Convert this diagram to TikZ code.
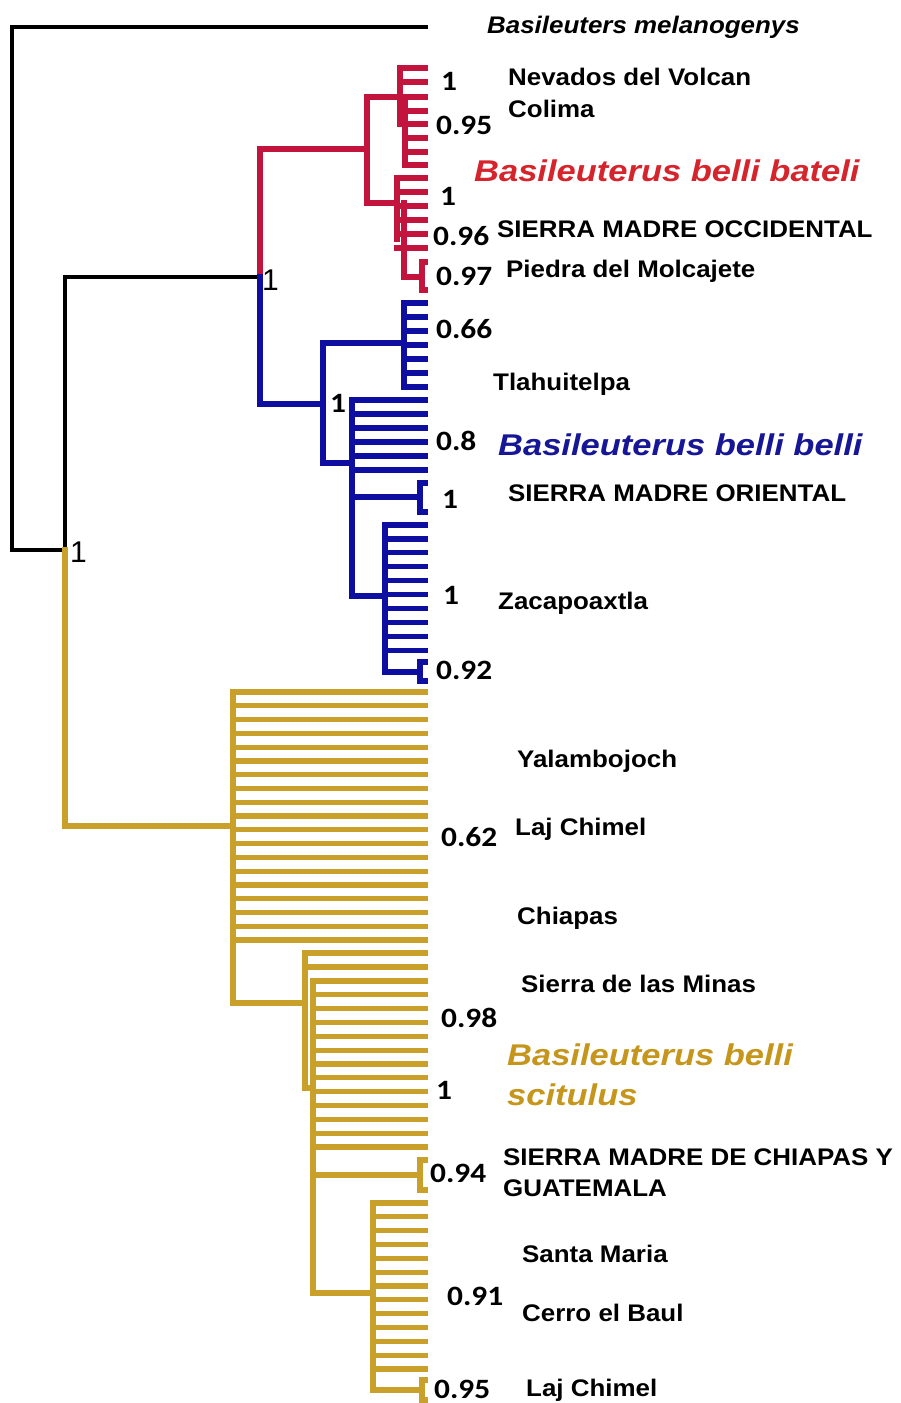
\documentclass[tikz,border=0pt]{standalone}
\usepackage{fontspec}
\setmainfont{Liberation Sans}
\newfontfamily\namefont{Liberation Sans}[FakeStretch=1.08]
\newfontfamily\cladefont{Liberation Sans}[FakeStretch=1.15]
\newfontfamily\numfont{Carlito}[FakeStretch=1.12]
\definecolor{cR}{RGB}{195,20,62}
\definecolor{cB}{RGB}{14,14,160}
\definecolor{cY}{RGB}{201,160,42}
\definecolor{lR}{RGB}{214,36,44}
\definecolor{lB}{RGB}{22,22,150}
\definecolor{lY}{RGB}{198,150,28}
\newcommand\leafend{425}
% leaf: style, x of parent vertical, y
\newcommand\tleaf[3]{\coordinate (lp) at (#2,#3); \coordinate (lq) at (\leafend,#3); \draw[#1] (lp) -- (lq);}
% bracket: style, x, ytop, ybottom
\newcommand\tbrack[4]{\coordinate (bt) at (#2,#3); \coordinate (bb) at (#2,#4);
  \coordinate (bt2) at (\leafend,#3); \coordinate (bb2) at (\leafend,#4);
  \draw[#1] (bt2) -- (bt) -- (bb) -- (bb2);}
\begin{document}
\begin{tikzpicture}[x=1pt,y=-1pt,
  tree/.style={line width=5.2pt, line cap=rect, line join=miter},
  treeK/.style={tree, line width=4.5pt, draw=black},
  treeR/.style={tree, draw=cR},
  treeB/.style={tree, draw=cB},
  treeY/.style={tree, draw=cY},
  nm/.style={anchor=base west, inner sep=0pt, yshift=-8.5pt, font=\namefont\bfseries\fontsize{24}{28}\selectfont},
  num/.style={anchor=base west, inner sep=0pt, yshift=-8.5pt, font=\numfont\bfseries\fontsize{28}{32}\selectfont},
  clade/.style={anchor=base west, inner sep=0pt, yshift=-11pt, font=\cladefont\bfseries\itshape\fontsize{30}{36}\selectfont},
  outg/.style={anchor=base west, inner sep=0pt, yshift=-8.5pt, font=\namefont\bfseries\itshape\fontsize{24}{28}\selectfont},
  big/.style={anchor=base west, inner sep=0pt, yshift=-11pt, font=\fontsize{30}{36}\selectfont}
]
\useasboundingbox (0,0) rectangle (900,1403);
\fill[white] (0,0) rectangle (900,1403);

% ---------- backbone (black) ----------
\coordinate (outleaf) at (426,27);
\coordinate (root) at (12,550);
\coordinate (nA) at (65,550);
\coordinate (nB) at (260,277);
\coordinate (nY) at (233,826);
\draw[treeK] (outleaf) -| (root) -- (nA);
\draw[treeK] (nA) |- (nB);
\draw[treeY] (nA) |- (nY);

% ---------- red clade ----------
\coordinate (rA) at (367,149);
\coordinate (rAt) at (367,97);
\coordinate (rAb) at (367,203);
\draw[treeR] (nB) |- (rA);
\draw[treeR] (rAt) -- (rAb);
\coordinate (r1) at (405,97);
\draw[treeR] (rAt) -- (r1);
\coordinate (r1a) at (400,68); \coordinate (r1b) at (400,124);
\draw[treeR] (r1a) -- (r1b);
\coordinate (r1c) at (405,97); \coordinate (r1d) at (405,165);
\draw[treeR] (r1c) -- (r1d);
\foreach \yy in {68,82,97,111,124} {\tleaf{treeR}{400}{\yy}}
\foreach \yy in {138,152,165} {\tleaf{treeR}{405}{\yy}}
\coordinate (r2) at (397,203);
\draw[treeR] (rAb) -- (r2);
\coordinate (r2a) at (397,178); \coordinate (r2b) at (397,239);
\draw[treeR] (r2a) -- (r2b);
\coordinate (r3a) at (404,203); \coordinate (r3b) at (404,277);
\draw[treeR] (r3a) -- (r3b);
\foreach \yy in {178,192,206,220,234,248} {\tleaf{treeR}{397}{\yy}}
\coordinate (r4) at (422,277);
\draw[treeR] (r3b) -- (r4);
\tbrack{treeR}{422}{262}{290}

% ---------- blue clade ----------
\coordinate (bA) at (323,404);
\draw[treeB] (nB) |- (bA);
\coordinate (bAt) at (323,343); \coordinate (bAb) at (323,463);
\draw[treeB] (bAt) -- (bAb);
\coordinate (b1) at (404,343);
\draw[treeB] (bAt) -- (b1);
\coordinate (b1t) at (404,303); \coordinate (b1b) at (404,387);
\draw[treeB] (b1t) -- (b1b);
\foreach \yy in {303,317,331,345,359,373,387} {\tleaf{treeB}{404}{\yy}}
\coordinate (b2) at (352,463);
\draw[treeB] (bAb) -- (b2);
\coordinate (b2t) at (352,400); \coordinate (b2b) at (352,596);
\draw[treeB] (b2t) -- (b2b);
\foreach \yy in {400,414,428,442,456,470} {\tleaf{treeB}{352}{\yy}}
\coordinate (b2m) at (352,497); \coordinate (b2k) at (420,497);
\draw[treeB] (b2m) -- (b2k);
\tbrack{treeB}{420}{483}{512}
\coordinate (b3) at (385,596);
\draw[treeB] (b2b) -- (b3);
\coordinate (b3t) at (385,525); \coordinate (b3b) at (385,672);
\draw[treeB] (b3t) -- (b3b);
\foreach \i in {0,...,9} {\tleaf{treeB}{385}{525+\i*13.9}}
\coordinate (b3k) at (420,672);
\draw[treeB] (b3b) -- (b3k);
\tbrack{treeB}{420}{662}{681}

% ---------- yellow clade ----------
\coordinate (yAt) at (233,692); \coordinate (yAb) at (233,1003);
\draw[treeY] (yAt) -- (yAb);
\foreach \i in {0,...,18} {\tleaf{treeY}{233}{692+\i*13.78}}
\coordinate (y1) at (305,1003);
\draw[treeY] (yAb) -- (y1);
\coordinate (y1t) at (305,953); \coordinate (y1b) at (305,1088);
\draw[treeY] (y1t) -- (y1b);
\foreach \yy in {953,967} {\tleaf{treeY}{305}{\yy}}
\coordinate (y2) at (313,1088);
\draw[treeY] (y1b) -- (y2);
\coordinate (y2t) at (313,981); \coordinate (y2b) at (313,1293);
\draw[treeY] (y2t) -- (y2b);
\foreach \i in {0,...,12} {\tleaf{treeY}{313}{981+\i*13.83}}
\coordinate (y2m) at (313,1175); \coordinate (y2k) at (420,1175);
\draw[treeY] (y2m) -- (y2k);
\tbrack{treeY}{420}{1160}{1190}
\coordinate (y3) at (373,1293);
\draw[treeY] (y2b) -- (y3);
\coordinate (y3t) at (373,1203); \coordinate (y3b) at (373,1390);
\draw[treeY] (y3t) -- (y3b);
\foreach \i in {0,...,12} {\tleaf{treeY}{373}{1203+\i*13.83}}
\coordinate (y3k) at (422,1390);
\draw[treeY] (y3b) -- (y3k);
\tbrack{treeY}{422}{1380}{1400}

% ---------- support values ----------
\node[big] (sA) at (70,551) {1};
\node[big] (sB) at (262,279) {1};
\node[num] (sC) at (330,404) {1};
\node[num] (s1) at (441,82) {1};
\node[num] (s2) at (436,126) {0.95};
\node[num] (s3) at (440,197) {1};
\node[num] (s4) at (433,237) {0.96};
\node[num] (s5) at (436,277) {0.97};
\node[num] (s6) at (436,330) {0.66};
\node[num] (s7) at (436,442) {0.8};
\node[num] (s8) at (442,500) {1};
\node[num] (s9) at (443,596) {1};
\node[num] (s10) at (436,671) {0.92};
\node[num] (s11) at (441,838) {0.62};
\node[num] (s12) at (441,1019) {0.98};
\node[num] (s13) at (436,1091) {1};
\node[num] (s14) at (430,1174) {0.94};
\node[num] (s15) at (447,1297) {0.91};
\node[num] (s16) at (434,1390) {0.95};

% ---------- names ----------
\node[outg] (t0) at (487,25) {Basileuters melanogenys};
\node[nm] (t1) at (508,77) {Nevados del Volcan};
\node[nm] (t2) at (508,109) {Colima};
\node[nm] (t3) at (497,229) {SIERRA MADRE OCCIDENTAL};
\node[nm] (t4) at (506,269) {Piedra del Molcajete};
\node[nm] (t5) at (493,382) {Tlahuitelpa};
\node[nm] (t6) at (508,493) {SIERRA MADRE ORIENTAL};
\node[nm] (t7) at (498,601) {Zacapoaxtla};
\node[nm] (t8) at (517,759) {Yalambojoch};
\node[nm] (t9) at (515,827) {Laj Chimel};
\node[nm] (t10) at (517,916) {Chiapas};
\node[nm] (t11) at (521,984) {Sierra de las Minas};
\node[nm] (t12) at (503,1157) {SIERRA MADRE DE CHIAPAS Y};
\node[nm] (t13) at (503,1188) {GUATEMALA};
\node[nm] (t14) at (522,1254) {Santa Maria};
\node[nm] (t15) at (522,1313) {Cerro el Baul};
\node[nm] (t16) at (526,1388) {Laj Chimel};

% ---------- clade labels ----------
\node[clade, text=lR] (cl1) at (474,170) {Basileuterus belli bateli};
\node[clade, text=lB] (cl2) at (498,444) {Basileuterus belli belli};
\node[clade, text=lY] (cl3) at (507,1054) {Basileuterus belli};
\node[clade, text=lY] (cl4) at (507,1094) {scitulus};
\end{tikzpicture}
\end{document}
